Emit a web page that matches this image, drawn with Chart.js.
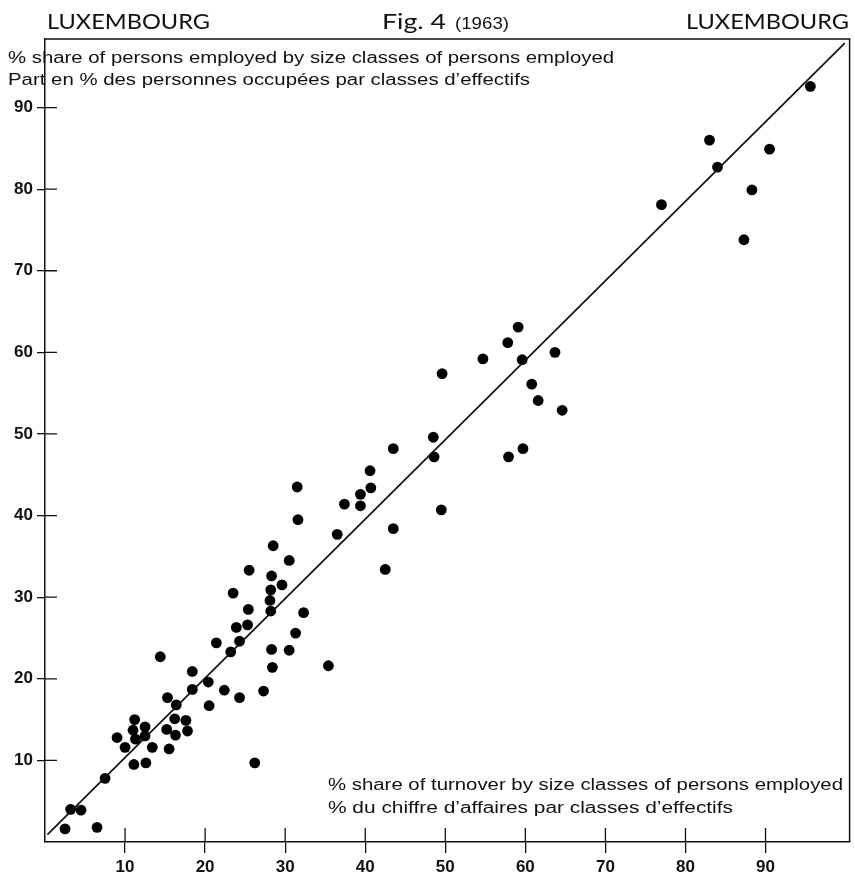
<!DOCTYPE html>
<html>
<head>
<meta charset="utf-8">
<title>Luxembourg Fig. 4 (1963)</title>
<script src="https://cdn.jsdelivr.net/npm/chart.js@4.4.1/dist/chart.umd.min.js"></script>
<style>
  html, body { margin: 0; padding: 0; background: #fff; }
  canvas { display: block; }
</style>
</head>
<body>
<canvas id="chart" width="855" height="879"></canvas>
<script>
'use strict';
// x = % share of turnover, y = % share of persons employed
const turnoverShare = [
  95.6, 83.0, 90.5, 84.0, 77.0, 88.3, 87.3,
  59.1, 57.8, 54.7, 59.6, 63.7, 49.6, 60.8, 61.6, 64.6, 48.5, 48.6, 59.7, 57.9, 49.5,
  43.5, 40.6, 40.7, 39.4, 39.4, 37.4, 31.5, 31.6, 36.5, 43.5, 42.5,
  28.5, 30.5, 25.5, 28.3, 29.6, 28.2, 23.5, 28.1, 28.2, 25.4, 32.3,
  23.9, 25.3, 31.3, 24.3, 21.4, 23.2, 28.3, 30.5, 28.4, 35.4,
  14.4, 18.4, 20.4, 18.4, 22.4, 27.3, 24.3, 15.3, 20.5, 16.4,
  16.2, 17.6, 11.2, 12.5, 15.2, 17.8, 11.0, 12.5, 16.3, 9.0, 11.3,
  10.0, 13.4, 15.5, 11.1, 12.6, 26.2, 7.5, 3.2, 4.5, 2.5, 6.5
];
const employedShare = [
  92.6, 86.0, 84.9, 82.7, 78.1, 79.9, 73.8,
  63.1, 61.2, 59.2, 59.1, 60.0, 57.4, 56.1, 54.1, 52.9, 49.6, 47.2, 48.2, 47.2, 40.7,
  48.2, 45.5, 43.4, 42.6, 41.2, 41.4, 43.5, 39.5, 37.7, 38.4, 33.4,
  36.3, 34.5, 33.3, 32.6, 31.5, 30.9, 30.5, 29.6, 28.3, 28.5, 28.1,
  26.3, 26.6, 25.6, 24.6, 24.4, 23.3, 23.6, 23.5, 21.4, 21.6,
  22.7, 20.9, 19.6, 18.7, 18.6, 18.5, 17.7, 17.7, 16.7, 16.8,
  15.1, 14.9, 15.0, 14.1, 13.8, 13.6, 13.7, 13.0, 13.1, 12.8, 12.6,
  11.6, 11.6, 11.4, 9.5, 9.7, 9.7, 7.8, 4.0, 3.9, 1.6, 1.8
];
// the drawn diagonal
const lineX = [0.3, 99.9];
const lineY = [0.9, 97.9];
const xTicks = [10, 20, 30, 40, 50, 60, 70, 80, 90];
const yTicks = [10, 20, 30, 40, 50, 60, 70, 80, 90];

const points = [];
for (let i = 0; i < turnoverShare.length; i++) {
  points.push({x: turnoverShare[i], y: employedShare[i]});
}
const linePoints = [];
for (let i = 0; i < lineX.length; i++) {
  linePoints.push({x: lineX[i], y: lineY[i]});
}

//helper: draw text at a given size, squeezed/stretched sideways to a given width
function fitText(ctx, text, x, y, width, size, family, weight, align) {
  ctx.font = weight + ' ' + size + 'px ' + family;
  const w = ctx.measureText(text).width;
  ctx.save();
  ctx.translate(x, y);
  ctx.scale(width / w, 1);
  ctx.textAlign = align;
  ctx.textBaseline = 'alphabetic';
  ctx.fillText(text, 0, 0);
  ctx.restore();
}

/////////////////// frame, inner ticks and texts ///////////////////
const decoPlugin = {
  id: 'deco',
  afterDraw(chart) {
    const ctx = chart.ctx;
    const a = chart.chartArea;
    const xs = chart.scales.x;
    const ys = chart.scales.y;
    ctx.save();
    ctx.strokeStyle = '#111';
    ctx.fillStyle = '#111';
    // top and right border
    ctx.lineWidth = 1.5;
    ctx.beginPath();
    ctx.moveTo(a.left, a.top);
    ctx.lineTo(a.right, a.top);
    ctx.lineTo(a.right, a.bottom);
    ctx.stroke();
    // inner part of the ticks
    ctx.lineWidth = 1.3;
    ctx.beginPath();
    for (const v of xTicks) {
      const px = xs.getPixelForValue(v);
      ctx.moveTo(px, a.bottom);
      ctx.lineTo(px, a.bottom - 14);
    }
    for (const v of yTicks) {
      const py = ys.getPixelForValue(v);
      ctx.moveTo(a.left, py);
      ctx.lineTo(a.left + 12, py);
    }
    ctx.stroke();

    // headers
    fitText(ctx, 'LUXEMBOURG', 47, 29, 163, 22, 'Lato', 'normal', 'left');
    fitText(ctx, 'Fig. 4', 382, 29, 64, 21, 'Lato', 'normal', 'left');
    fitText(ctx, '(1963)', 455, 29, 54, 17, '"Liberation Sans"', 'normal', 'left');
    fitText(ctx, 'LUXEMBOURG', 849, 29, 163, 22, 'Lato', 'normal', 'right');
    // y axis title
    fitText(ctx, '% share of persons employed by size classes of persons employed', 8, 63, 606, 16, '"Liberation Sans"', 'normal', 'left');
    fitText(ctx, 'Part en % des personnes occupées par classes d\u2019effectifs', 8, 85, 522, 16, '"Liberation Sans"', 'normal', 'left');
    // x axis title
    fitText(ctx, '% share of turnover by size classes of persons employed', 328, 790, 515, 16, '"Liberation Sans"', 'normal', 'left');
    fitText(ctx, '% du chiffre d\u2019affaires par classes d\u2019effectifs', 328, 813, 405, 16, '"Liberation Sans"', 'normal', 'left');
    ctx.restore();
  }
};

new Chart(document.getElementById('chart'), {
  type: 'scatter',
  data: {
    datasets: [
      {
        type: 'line',
        data: linePoints,
        borderColor: '#111',
        borderWidth: 1.7,
        pointRadius: 0,
        fill: false,
      },
      {
        data: points,
        backgroundColor: '#000',
        borderColor: '#000',
        borderWidth: 0,
        pointRadius: 5.4,
        pointHoverRadius: 5.4,
        clip: false,
      }
    ]
  },
  options: {
    responsive: false,
    animation: false,
    events: [],
    layout: {padding: {top: 39, right: 5, left: 0, bottom: 0}},
    plugins: {legend: {display: false}, tooltip: {enabled: false}},
    scales: {
      x: {
        type: 'linear',
        min: 0,
        max: 100.5,
        afterBuildTicks(scale) { scale.ticks = xTicks.map(v => ({value: v})); },
        afterFit(scale) { scale.height = 37; },
        grid: {drawOnChartArea: false, drawTicks: true, tickLength: 11, color: '#111', lineWidth: 1.3},
        border: {display: true, color: '#111', width: 1.5},
        ticks: {color: '#111', padding: 4, maxRotation: 0, autoSkip: false,
          font: {family: '"Liberation Sans", Arial, sans-serif', size: 17, weight: 'bold'}}
      },
      y: {
        type: 'linear',
        min: 0,
        max: 98.4,
        afterBuildTicks(scale) { scale.ticks = yTicks.map(v => ({value: v})); },
        afterFit(scale) { scale.width = 45; },
        grid: {drawOnChartArea: false, drawTicks: true, tickLength: 8, color: '#111', lineWidth: 1.3},
        border: {display: true, color: '#111', width: 1.5},
        ticks: {color: '#111', padding: 4, autoSkip: false,
          font: {family: '"Liberation Sans", Arial, sans-serif', size: 17, weight: 'bold'}}
      }
    }
  },
  plugins: [decoPlugin]
});
</script>
</body>
</html>
